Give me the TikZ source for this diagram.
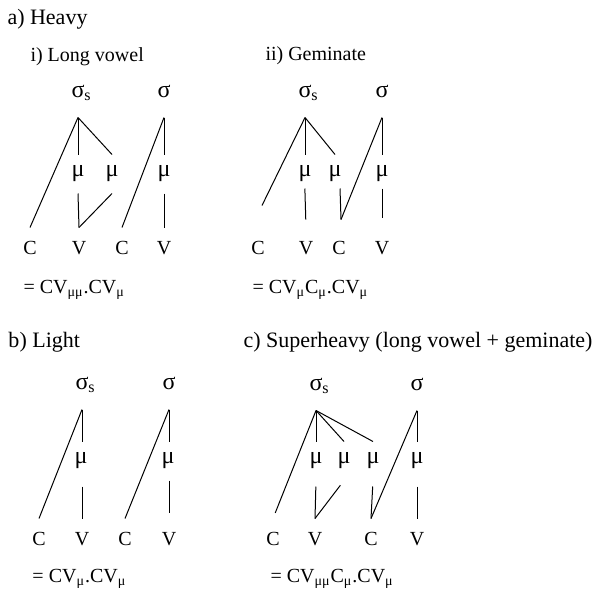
\documentclass[tikz,border=0pt]{standalone}
\usepackage{fontspec}
\setmainfont{Liberation Serif}
\usetikzlibrary{calc}

\begin{document}
\begin{tikzpicture}[
  x=0.5pt, y=-0.5pt,
  font=\fontsize{10}{12}\selectfont,
  line width=0.5pt,
  syl/.style={inner sep=0pt, minimum height=26pt, font=\fontsize{12}{14}\selectfont},
  mora/.style={inner sep=0pt, minimum height=19pt, font=\fontsize{12}{14}\selectfont},
  seg/.style={inner sep=0pt, minimum height=20pt},
  title/.style={anchor=base west, inner sep=0pt},
  head/.style={title, font=\fontsize{11}{13}\selectfont},
  low/.style={shorten <=3pt},
]
\useasboundingbox (0,0) rectangle (597,589);

% --- a) Heavy ---
\node[head] (ta) at (7,24) {a) Heavy};

% i) Long vowel
\begin{scope}
  \node[title] (ta1) at (30,61) {i) Long vowel};
  \node[syl] (a1s) at (78,91) {σ\rlap{\smash{\textsubscript{s}}}};
  \node[syl] (a1t) at (164,91) {σ};
  \foreach \n/\x in {1/78, 2/112, 3/164}
    \node[mora] (a1m\n) at (\x,174) {μ};
  \foreach \n/\x/\t in {c1/30/C, v1/79/V, c2/122/C, v2/164/V}
    \node[seg] (a1\n) at (\x,248) {\t};

  \draw (a1s.south) -- (a1c1.north);
  \draw (a1s.south) -- (a1m1.north);
  \draw (a1s.south) -- (a1m2.north);
  \draw (a1m1.south) -- (a1v1.north);
  \draw (a1m2.south) -- (a1v1.north);
  \draw (a1t.south) -- (a1c2.north);
  \draw (a1t.south) -- (a1m3.north);
  \draw (a1m3.south) -- (a1v2.north);

  \node[title] (fa1) at (23,293) {= CV\textsubscript{μμ}.CV\textsubscript{μ}};
\end{scope}

% ii) Geminate
\begin{scope}
  \node[title] (ta2) at (265,60) {ii) Geminate};
  \node[syl] (a2s) at (305,91) {σ\rlap{\smash{\textsubscript{s}}}};
  \node[syl] (a2t) at (382,91) {σ};
  \foreach \n/\x in {1/305, 2/335, 3/382}
    \node[mora] (a2m\n) at (\x,174) {μ};
  \foreach \n/\x/\t in {c1/258/C, v1/306/V, c2/339/C, v2/382/V}
    \node[seg] (a2\n) at (\x,248) {\t};

  % the onset line stops short of its C
  \draw (a2s.south) -- ([xshift=2pt,yshift=11pt]a2c1.north);
  \draw (a2s.south) -- (a2m1.north);
  \draw (a2s.south) -- (a2m2.north);
  \draw[shorten <=-2.5pt, shorten >=4pt] (a2m1.south) -- (a2v1.north);
  \draw ([xshift=2.5pt,yshift=2.5pt]a2m2.south) -- ([xshift=1pt,yshift=4pt]a2c2.north);
  \draw (a2t.south) -- ([xshift=1pt,yshift=4pt]a2c2.north);
  \draw (a2t.south) -- (a2m3.north);
  \draw[shorten <=-2.5pt, shorten >=5pt] (a2m3.south) -- (a2v2.north);

  \node[title] (fa2) at (252,293) {= CV\textsubscript{μ}C\textsubscript{μ}.CV\textsubscript{μ}};
\end{scope}

% --- b) Light ---
\begin{scope}
  \node[head] (tb) at (8,347) {b) Light};
  \node[syl] (b1s) at (82,383) {σ\rlap{\smash{\textsubscript{s}}}};
  \node[syl] (b1t) at (169,383) {σ};
  \foreach \n/\x in {1/81, 2/168}
    \node[mora] (b1m\n) at (\x,461) {μ};
  \foreach \n/\x/\t in {c1/39/C, v1/82/V, c2/125/C, v2/169/V}
    \node[seg] (b1\n) at (\x,539) {\t};

  \draw (b1s.south) -- (b1c1.north);
  \draw (b1s.south) -- (b1m1.north -| b1s);
  \draw[low] (b1m1.south -| b1s) -- (b1v1.north);
  \draw (b1t.south) -- (b1c2.north);
  \draw (b1t.south) -- (b1m2.north -| b1t);
  \draw[shorten >=3pt] (b1m2.south -| b1t) -- (b1v2.north);

  \node[title] (fb) at (32,582) {= CV\textsubscript{μ}.CV\textsubscript{μ}};
\end{scope}

% --- c) Superheavy ---
\begin{scope}
  \node[head] (tc) at (243,347) {c) Superheavy (long vowel + geminate)};
  \node[syl] (c1s) at (316,384) {σ\rlap{\smash{\textsubscript{s}}}};
  \node[syl] (c1t) at (417,384) {σ};
  \foreach \n/\x in {1/316, 2/344, 3/373, 4/417}
    \node[mora] (c1m\n) at (\x,461) {μ};
  \foreach \n/\x/\t in {c1/273/C, v1/315/V, c2/371/C, v2/417/V}
    \node[seg] (c1\n) at (\x,539) {\t};

  \draw[shorten >=3pt] (c1s.south) -- (c1c1.north);
  \draw (c1s.south) -- (c1m1.north);
  \draw (c1s.south) -- (c1m2.north);
  \draw (c1s.south) -- (c1m3.north);
  \draw[low] (c1m1.south) -- (c1v1.north);
  \draw[low] (c1m2.south) -- (c1v1.north);
  \draw[low] (c1m3.south) -- (c1c2.north);
  \draw (c1t.south) -- (c1c2.north);
  \draw (c1t.south) -- (c1m4.north);
  \draw[low] (c1m4.south) -- (c1v2.north);

  \node[title] (fc) at (270,582) {= CV\textsubscript{μμ}C\textsubscript{μ}.CV\textsubscript{μ}};
\end{scope}

\end{tikzpicture}
\end{document}
